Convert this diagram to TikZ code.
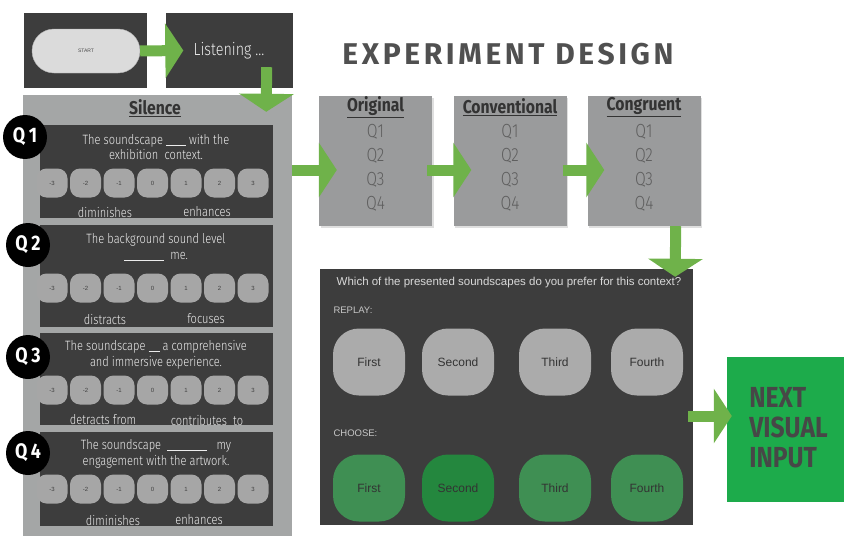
\documentclass[tikz,border=0pt]{standalone}
\usepackage{fontspec}
\setmainfont{Fira Sans Light}[FakeStretch=0.82]
\newfontfamily\headfont{Fira Sans}[FakeStretch=0.85]
\newfontfamily\titlefont{Fira Sans}[LetterSpace=12]
\newfontfamily\appfont{Liberation Sans}
\usetikzlibrary{positioning, arrows.meta, shadows}

\definecolor{paneldark}{HTML}{3D3D3D}
\definecolor{silencegray}{HTML}{A4A6A6}
\definecolor{condgray}{HTML}{9A9B9C}
\definecolor{flowgreen}{HTML}{6FB24A}
\definecolor{dialgray}{HTML}{A6A6A6}
\definecolor{choicegreen}{HTML}{3F8F53}
\definecolor{choicedark}{HTML}{24873E}
\definecolor{nextgreen}{HTML}{1DAB4B}
\definecolor{titlegray}{HTML}{505050}
\definecolor{itemgray}{HTML}{5E5E5E}
\definecolor{lighttext}{HTML}{ECECEC}

\newcommand{\blank}[1]{\rule[-1pt]{#1}{0.6pt}}

\tikzset{
x=1pt, y=-1pt, % pixel-like units, y grows downwards
}
\tikzstyle{screen} = [rectangle, fill=paneldark, inner sep=0pt]
\tikzstyle{pill} = [rectangle, fill=black!14, draw=black!30, rounded corners=22pt,
    minimum width=108pt, minimum height=44pt, font=\appfont\fontsize{5}{6}\selectfont, text=black!70]
\tikzstyle{qpanel} = [rectangle, fill=paneldark, minimum width=233pt, inner sep=0pt]
\tikzstyle{badge} = [circle, fill=black, minimum size=44pt, inner sep=0pt,
    text=white, font=\headfont\bfseries\fontsize{21}{21}\selectfont]
\tikzstyle{dial} = [rectangle, fill=dialgray, rounded corners=10pt, minimum width=31pt,
    minimum height=29pt, inner sep=0pt, font=\appfont\fontsize{6}{7}\selectfont, text=black!75]
\tikzstyle{question} = [align=center, text=lighttext, font=\fontsize{13.5}{15.5}\selectfont]
\tikzstyle{scalelabel} = [text=lighttext, font=\fontsize{13.5}{15}\selectfont]
\tikzstyle{head} = [text=black!80, font=\headfont\bfseries\fontsize{18.5}{20}\selectfont]
\tikzstyle{condbox} = [rectangle, fill=condgray, minimum width=113pt, minimum height=130pt,
    drop shadow={opacity=0.25, shadow xshift=1.5pt, shadow yshift=-2pt}]
\tikzstyle{conditem} = [text=itemgray, font=\fontsize{19}{21}\selectfont]
\tikzstyle{appbtn} = [rectangle, rounded corners=26pt, minimum width=72pt, minimum height=67pt,
    inner sep=0pt, font=\appfont\fontsize{12}{13}\selectfont, text=black!80]
\tikzstyle{applabel} = [text=black!22, font=\appfont\fontsize{9.5}{10}\selectfont]
\tikzstyle{flow} = [draw=flowgreen, line width=11pt, -{Triangle[length=18pt, width=54pt]}]

\begin{document}
\begin{tikzpicture}
\useasboundingbox (0,0) rectangle (844,538);

% start and listening screens
\node [screen, minimum width=123pt, minimum height=75pt] (startscr) at (85.5,50.5) {};
\node [pill] (pill) at (86,51) {START};
\node [screen, minimum width=127pt, minimum height=75pt, text=lighttext,
    font=\fontsize{17.5}{19}\selectfont] (listen) at (229,50.5) {Listening ...};

\node [text=titlegray, font=\titlefont\bfseries\fontsize{30}{31}\selectfont] (title) at (508,54) {EXPERIMENT DESIGN};

% silence block with the four questions
\node [fill=silencegray, minimum width=269pt, minimum height=441pt] (silence) at (157.5,315.5) {};
\node [head] (silence-h) at (155,108) {\underline{Silence}};

\foreach \n/\top/\bot/\qy/\by/\ly/\txt/\la/\lx/\ra/\rx/\bx in {
  1/125/218/137/183/212/{The soundscape \blank{20pt} with the\\exhibition\ \ context.}/diminishes/105/enhances/207/25,
  2/225/327/245/288/319/{The background sound level\\\blank{40pt}\ \ me.}/distracts/105/focuses/206/28,
  3/333/425/357/390/420/{The soundscape \blank{11pt} a comprehensive\\and immersive experience.}/detracts from/103/contributes\ \ to/207/28,
  4/432/526/453/489/520/{The soundscape \ \blank{40pt}\ \ \ my\\engagement with the artwork.}/diminishes/113/enhances/199/28}
{
  \pgfmathsetmacro\qh{\bot-\top}
  \pgfmathsetmacro\qc{(\bot+\top)/2}
  \node [qpanel, minimum height=\qh pt] (q\n) at (156.5,\qc) {};
  \node [question] (q\n-txt) at (156,\top+22) {\txt};
  \foreach \v [count=\i] in {-3,...,3}
    \node [dial] (q\n-\i) at ({52+33.5*(\i-1)},\by) {\v};
  \node [scalelabel] (q\n-lo) at (\lx,\ly) {\la};
  \node [scalelabel] (q\n-hi) at (\rx,\ly) {\ra};
  \node [badge] (badge\n) at (\bx,\qy) {Q\,\n};
}

% the three soundscape conditions
\foreach \name/\x/\title in {orig/375.5/Original, conv/510/Conventional, cong/644/Congruent}
{
  \node [condbox] (\name) at (\x,161) {};
  \node [head] (\name-h) at (\x,107) {\underline{\title}};
  \foreach \k in {1,...,4}
    \node [conditem] (\name-\k) at (\x,108+24*\k) {Q\k};
}

% preference screen
\node [screen, minimum width=373pt, minimum height=256pt] (pref) at (506.5,397) {};
\node [text=black!15, font=\appfont\fontsize{11.5}{13}\selectfont] (prompt) at (509,283)
    {Which of the presented soundscapes do you prefer for this context?};
\node [applabel, anchor=west] (replay) at (330,310) {REPLAY:};
\node [applabel, anchor=west] (choose) at (330,433) {CHOOSE:};
\foreach \name/\x/\c in {First/369/choicegreen, Second/458/choicedark, Third/555/choicegreen, Fourth/647/choicegreen}
{
  \node [appbtn, fill=black!33] (replay-\name) at (\x,362) {\name};
  \node [appbtn, fill=\c] (choose-\name) at (\x,488) {\name};
}

\node [fill=nextgreen, minimum width=117pt, minimum height=145pt] (next) at (785.5,429.5) {};
\node [anchor=west, align=left, text=black!72, font=\headfont\bfseries\fontsize{29}{30}\selectfont]
    (next-txt) at ([xshift=19pt,yshift=2pt]next.west) {NEXT\\VISUAL\\INPUT};

% green flow arrows
\draw [flow] (pill.east) -- ([xshift=18pt]listen.west);
\draw [flow] ([xshift=-26pt,yshift=21pt]listen.south east) -- ([xshift=-26pt,yshift=-17pt]silence.north east);
\draw [flow] ([yshift=-9pt]silence.east |- orig.west) -- ([xshift=18pt,yshift=-9pt]orig.west);
\draw [flow] ([xshift=-5pt,yshift=-9pt]orig.east) -- ([xshift=18pt,yshift=-9pt]conv.west);
\draw [flow] ([xshift=-4pt,yshift=-9pt]conv.east) -- ([xshift=17pt,yshift=-9pt]cong.west);
\draw [flow] ([xshift=-25pt]cong.south east) -- ([xshift=-18pt,yshift=-8pt]pref.north east);
\draw [flow] ([xshift=-5pt,yshift=-19pt]pref.east) -- ([xshift=5pt,yshift=13.5pt]next.west);

\end{tikzpicture}
\end{document}
